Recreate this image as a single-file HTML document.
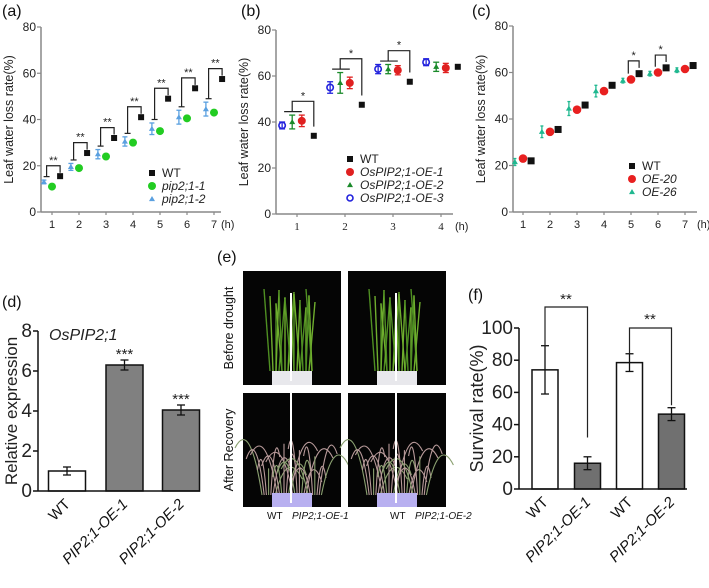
<!DOCTYPE html>
<html><head><meta charset="utf-8"><style>
body{margin:0;background:#fff}
svg{display:block;font-family:"Liberation Sans",Arial,sans-serif}
</style></head><body>
<svg id="fig" width="709" height="588" viewBox="0 0 709 588">
<g id="pa"></g>
<g id="pb"></g>
<g id="pc"></g>
<g id="pd"></g>
<g id="pe"></g>
<g id="pf"></g>
</svg>
<script>
// ---- panel a data
const aHours=[1,2,3,4,5,6,7];
const aWT=[15.5,25.5,32,41,49,53.5,57.5];
const aPip1=[11,19,24,30,35,40.5,43];
const aPip2=[13,19.5,25,30.5,36,41,44.5];
const aPip2Err=[0.8,1.5,2,2,2.5,3,3];
// ---- panel b data
const bHours=[1,2,3,4];
const bWT=[34,47.5,57.5,64];
const bOE1=[40.5,57,62.5,63.5];
const bOE1Err=[2.5,2.5,2,2];
const bOE2=[40,57,63,64];
const bOE2Err=[3,4.5,2,2];
const bOE3=[38.5,55,63,66];
const bOE3Err=[1.5,2.5,2,1.5];
// ---- panel c data
const cHours=[1,2,3,4,5,6,7];
const cWT=[22,35.5,46,54.5,59.5,62,63];
const cOE20=[23,34.5,44,52,57,60,61.5];
const cOE26=[21.5,34.5,44.5,52,56.5,59.5,61];
const cOE26Err=[1.5,2.5,3,2.5,1,1,1];
// ---- panel d data
const dCats=["WT","PIP2;1-OE-1","PIP2;1-OE-2"];
const dVals=[1,6.3,4.05];
const dErr=[0.2,0.25,0.25];
const dTicks=[0,2,4,6,8];
// ---- panel f data
const fCats=["WT","PIP2;1-OE-1","WT","PIP2;1-OE-2"];
const fVals=[74,16,78.5,46.5];
const fErr=[15,4,5.5,4];
const fTicks=[0,20,40,60,80,100];

const NS="http://www.w3.org/2000/svg";
function mk(parent,tag,attrs,text){const e=document.createElementNS(NS,tag);for(const k in attrs)e.setAttribute(k,attrs[k]);if(text!==undefined)e.textContent=text;parent.appendChild(e);return e;}
function lin(d0,d1,r0,r1){return v=>r0+(v-d0)*(r1-r0)/(d1-d0);}

function scatterAxes(g,x0,yTop,yBot,xEnd,X,Y,hours,hlx,label,lx,ly){
  let t=mk(g,'text',{x:lx,y:ly,'font-size':16,fill:'#111'},label);
  
  
  let ax=mk(g,'line',{x1:x0,y1:yTop,x2:x0,y2:yBot,stroke:'#888','stroke-width':1.5});
  
  
  let xa=mk(g,'line',{x1:x0,y1:yBot,x2:xEnd,y2:yBot,stroke:'#888','stroke-width':1.5});
  
  
  [0,20,40,60,80].forEach(v=>{
    mk(g,'line',{x1:x0-4,y1:Y(v),x2:x0,y2:Y(v),stroke:'#888','stroke-width':1.2});
    let tl=mk(g,'text',{x:x0-5,y:Y(v)+4,'font-size':12,'text-anchor':'end',fill:'#222'},v);
    
    
  });
  hours.forEach(h=>{
    mk(g,'line',{x1:X(h),y1:yBot,x2:X(h),y2:yBot+3,stroke:'#888','stroke-width':1.2});
    let tl=mk(g,'text',{x:X(h),y:yBot+16,'font-size':11,'text-anchor':'middle',fill:'#222'},h);
    
    
  });
  let u=mk(g,'text',{x:hlx,y:yBot+16,'font-size':11,fill:'#222'},'(h)');
  
  
  let yt=mk(g,'text',{transform:`translate(${x0-28},${(yTop+yBot)/2}) rotate(-90)`,'font-size':12.5,'text-anchor':'middle',fill:'#222'},'Leaf water loss rate(%)');
  
  
}
function sq(g,x,y,s,c,name){let e=mk(g,'rect',{x:x-s/2,y:y-s/2,width:s,height:s,fill:c});return e;}
function circ(g,x,y,r,c,name,open){let e=mk(g,'circle',{cx:x,cy:y,r:r,fill:open?'none':c,stroke:c,'stroke-width':open?1.6:0});return e;}
function tri(g,x,y,s,c,name){let e=mk(g,'polygon',{points:`${x},${y-s} ${x-s},${y+s*0.7} ${x+s},${y+s*0.7}`,fill:c});return e;}
function err(g,x,y1,y2,c,w){mk(g,'line',{x1:x,y1:y1,x2:x,y2:y2,stroke:c,'stroke-width':1.3});mk(g,'line',{x1:x-w,y1:y1,x2:x+w,y2:y1,stroke:c,'stroke-width':1.3});mk(g,'line',{x1:x-w,y1:y2,x2:x+w,y2:y2,stroke:c,'stroke-width':1.3});}
function bracket(g,xl,xr,yl,yr,yt,stars,name){let p=mk(g,'polyline',{points:`${xl},${yl} ${xl},${yt} ${xr},${yt} ${xr},${yr}`,fill:'none',stroke:'#222','stroke-width':1.2});let s=mk(g,'text',{x:(xl+xr)/2,y:yt-2,'font-size':11,'text-anchor':'middle',fill:'#222'},stars);}
function legend(g,x,y,items,italic,fs,dy){items.forEach((it,i)=>{const yy=y+i*dy;it[0](x,yy);let t=mk(g,'text',{x:x+10,y:yy+4,'font-size':fs,fill:'#222','font-style':(italic&&i>0)?'italic':'normal'},it[1]);});}

// ---- panel a
(function(){
 const g=document.getElementById('pa');
 const X=lin(1,7,52,214),Y=lin(0,80,212,27);
 scatterAxes(g,41,27,212,221,X,Y,aHours,221,'(a)',2,16);
 aHours.forEach((h,i)=>{
   const xb=X(h-0.3);
   err(g,xb,Y(aPip2[i]+aPip2Err[i]),Y(aPip2[i]-aPip2Err[i]),'#5aa0e0',2.5);
   tri(g,xb,Y(aPip2[i]),3,'#5aa0e0','pip2-1-2-point');
   circ(g,X(h),Y(aPip1[i]),4,'#22cc22','pip2-1-1-point');
   sq(g,X(h+0.3),Y(aWT[i]),6,'#111','wt-point');
   const xl=X(h-0.2),xr=X(h+0.3);
   mk(g,'line',{x1:xl-3,y1:Y(aPip2[i]+aPip2Err[i]+1.5),x2:xl+3,y2:Y(aPip2[i]+aPip2Err[i]+1.5),stroke:'#222','stroke-width':1.2});
   bracket(g,xl,xr,Y(aPip2[i]+aPip2Err[i]+1.5),Y(aWT[i]+1.5),Y(aWT[i]+4.5),'**','significance-bracket');
 });
 legend(g,152,173,[[(x,y)=>sq(g,x,y,6,'#111','legend-wt-marker'),'WT'],[(x,y)=>circ(g,x,y,4,'#22cc22','legend-pip2-1-1-marker'),'pip2;1-1'],[(x,y)=>tri(g,x,y,3,'#5aa0e0','legend-pip2-1-2-marker'),'pip2;1-2']],true,12,13);
})();

// ---- panel b
(function(){
 const g=document.getElementById('pb');
 const X=lin(1,4,297,441),Y=lin(0,80,214,30);
 scatterAxes(g,276,30,214,453,X,Y,bHours,455,'(b)',241,16);
 g.querySelectorAll('text').forEach(t=>{if(/^[1-4]$/.test(t.textContent))t.setAttribute('font-family','Liberation Serif');});
 bHours.forEach((h,i)=>{
   const x3=X(h-0.31),x2=X(h-0.1),x1=X(h+0.1),xw=X(h+0.35);
   err(g,x3,Y(bOE3[i]+bOE3Err[i]),Y(bOE3[i]-bOE3Err[i]),'#2222dd',3);
   circ(g,x3,Y(bOE3[i]),3.2,'#2222dd','oe3-point',true);
   err(g,x2,Y(bOE2[i]+bOE2Err[i]),Y(bOE2[i]-bOE2Err[i]),'#1a8a2a',3);
   tri(g,x2,Y(bOE2[i]),3,'#1a8a2a','oe2-point');
   err(g,x1,Y(bOE1[i]+bOE1Err[i]),Y(bOE1[i]-bOE1Err[i]),'#e02020',3);
   circ(g,x1,Y(bOE1[i]),4,'#e02020','oe1-point');
   sq(g,xw,Y(bWT[i]),6,'#111','wt-point');
   if(i<3){
     const top=Math.max(bOE2[i]+bOE2Err[i],bOE1[i]+bOE1Err[i])+3;
     mk(g,'line',{x1:x3+2,y1:Y(top-1.5),x2:x1,y2:Y(top-1.5),stroke:'#222','stroke-width':1.2});
     bracket(g,x2,xw,Y(top-1.5),Y(bWT[i]+4),Y(top+3),'*','significance-bracket');
   }
 });
 legend(g,350,159,[[(x,y)=>sq(g,x,y,6,'#111','legend-wt-marker'),'WT'],[(x,y)=>circ(g,x,y,4,'#e02020','legend-oe1-marker'),'OsPIP2;1-OE-1'],[(x,y)=>tri(g,x,y,3,'#1a8a2a','legend-oe2-marker'),'OsPIP2;1-OE-2'],[(x,y)=>circ(g,x,y,3,'#2222dd','legend-oe3-marker',true),'OsPIP2;1-OE-3']],true,12,13);
})();

// ---- panel c
(function(){
 const g=document.getElementById('pc');
 const X=lin(1,7,523,685),Y=lin(0,80,212,26);
 scatterAxes(g,513,26,212,697,X,Y,cHours,697,'(c)',472,16);
 cHours.forEach((h,i)=>{
   const xt=X(h-0.3);
   err(g,xt,Y(cOE26[i]+cOE26Err[i]),Y(cOE26[i]-cOE26Err[i]),'#20b890',1.5);
   tri(g,xt,Y(cOE26[i]),3,'#20b890','oe26-point');
   circ(g,X(h),Y(cOE20[i]),4.3,'#e82020','oe20-point');
   sq(g,X(h+0.3),Y(cWT[i]),7,'#111','wt-point');
   if(i===4||i===5){
     bracket(g,X(h-0.1),X(h+0.3),Y(cOE20[i]+2.5),Y(cWT[i]+2.5),Y(cWT[i]+5.5),'*','significance-bracket');
   }
 });
 legend(g,632,166,[[(x,y)=>sq(g,x,y,6,'#111','legend-wt-marker'),'WT'],[(x,y)=>circ(g,x,y,4,'#e82020','legend-oe20-marker'),'OE-20'],[(x,y)=>tri(g,x,y,3,'#20b890','legend-oe26-marker'),'OE-26']],true,12,13);
})();

function barPanel(g,x0,xEnd,yTop,yBot,Y,ticks,cats,vals,errs,centers,bw,fills,title,tfs,label,lx,ly,titleX){
 let t=mk(g,'text',{x:lx,y:ly,'font-size':16,fill:'#111'},label);
 
 
 ticks.forEach(v=>{
   mk(g,'line',{x1:x0-5,y1:Y(v),x2:x0,y2:Y(v),stroke:'#111','stroke-width':1.5});
   let tl=mk(g,'text',{x:x0-6,y:Y(v)+6,'font-size':19,'text-anchor':'end',fill:'#222'},v);
   
   
 });
 cats.forEach((c,i)=>{
   const cx=centers[i];
   let b=mk(g,'rect',{x:cx-bw/2,y:Y(vals[i]),width:bw,height:Y(0)-Y(vals[i]),fill:fills[i],stroke:'#111','stroke-width':1.5});
   
   
   err(g,cx,Y(vals[i]+errs[i]),Y(vals[i]-errs[i]),'#111',4);
   let tl=mk(g,'text',{transform:`translate(${cx+4},${yBot+14}) rotate(-45)`,'font-size':15,'text-anchor':'end',fill:'#111','font-style':c==='WT'?'normal':'italic'},c);
   
   
 });
 let ax=mk(g,'line',{x1:x0,y1:yTop,x2:x0,y2:yBot,stroke:'#111','stroke-width':1.5});
 
 
 let xa=mk(g,'line',{x1:x0,y1:yBot,x2:xEnd,y2:yBot,stroke:'#111','stroke-width':1.5});
 
 
 let yt=mk(g,'text',{transform:`translate(${titleX},${(yTop+yBot)/2}) rotate(-90)`,'font-size':tfs,'text-anchor':'middle',fill:'#222'},title);
 
 
}

// ---- panel d
(function(){
 const g=document.getElementById('pd');
 const Y=lin(0,8,491,331);
 barPanel(g,38,200,331,491,Y,dTicks,dCats,dVals,dErr,[67,124.5,181],37,['#fff','#808080','#808080'],'Relative expression',17,'(d)',2,307,17);
 let gt=mk(g,'text',{x:49,y:340,'font-size':16,'font-style':'italic',fill:'#222'},'OsPIP2;1');
 
 
 dVals.forEach((v,i)=>{if(i>0){let s=mk(g,'text',{x:[67,124.5,181][i],y:Y(v+dErr[i])-1,'font-size':15,'text-anchor':'middle',fill:'#222'},'***');}});
})();

// ---- panel f
(function(){
 const g=document.getElementById('pf');
 const Y=lin(0,100,489,328);
 barPanel(g,519,687,328,489,Y,fTicks,fCats,fVals,fErr,[545,587.5,629.5,671.5],26,['#fff','#707070','#fff','#707070'],'Survival rate(%)',18,'(f)',468,300,483);
 bracket(g,545,587.5,Y(89),Y(32),307,'',"significance-bracket-1");
 bracket(g,629.5,671.5,Y(84),Y(52),328,'',"significance-bracket-2");
 [[566,304],[650,324]].forEach(p=>{let s=mk(g,'text',{x:p[0],y:p[1],'font-size':15,'text-anchor':'middle',fill:'#222'},'**');});
})();

// ---- panel e (photos)
(function(){
 const g=document.getElementById('pe');
 let t=mk(g,'text',{x:217,y:262,'font-size':16,fill:'#111'},'(e)');
 
 
 const boxes=[[243,271,98,114,0],[348,271,98,114,0],[243,393,98,114,1],[348,393,98,114,1]];
 boxes.forEach((b,k)=>{
   const [x,y,w,h,after]=b;
   let r=mk(g,'rect',{x:x,y:y,width:w,height:h,fill:'#050505'});
   
   
   const cx=x+w/2;
   const potC=after?'#b8b0f0':'#e8e8ec';
   if(!after){
     for(let j=0;j<22;j++){const bx=cx-22+j*2+(j%3);const top=y+18+((j*7)%20);mk(g,'line',{x1:bx,y1:y+h-14,x2:bx+((j%5)-2)*3,y2:top,stroke:j%2?'#6fae2e':'#4f8f22','stroke-width':1.4});}
   } else {
     for(let j=0;j<28;j++){const bx=cx-30+j*2.2;const top=y+25+((j*11)%35);const c=j%3?'#b89a9a':'#8aa070';mk(g,'path',{d:`M${bx},${y+h-12} Q${bx+((j%7)-3)*4},${top} ${bx+((j%7)-3)*9},${top+30}`,fill:'none',stroke:c,'stroke-width':1.1});}
   }
   mk(g,'rect',{x:cx-20,y:y+h-14,width:40,height:14,fill:potC});
   mk(g,'line',{x1:cx-1,y1:y+(after?0:22),x2:cx-1,y2:y+h-4,stroke:'#fff','stroke-width':2});
 });
 [['Before drought',328],['After Recovery',450]].forEach(p=>{let s=mk(g,'text',{transform:`translate(${233},${p[1]}) rotate(-90)`,'font-size':12.5,'text-anchor':'middle',fill:'#111'},p[0]);});
 [[267,'WT',0],[292,'PIP2;1-OE-1',1],[390,'WT',0],[415,'PIP2;1-OE-2',1]].forEach(p=>{let s=mk(g,'text',{x:p[0],y:519,'font-size':10,fill:'#111','font-style':p[2]?'italic':'normal'},p[1]);});
})();
</script>
</body></html>
